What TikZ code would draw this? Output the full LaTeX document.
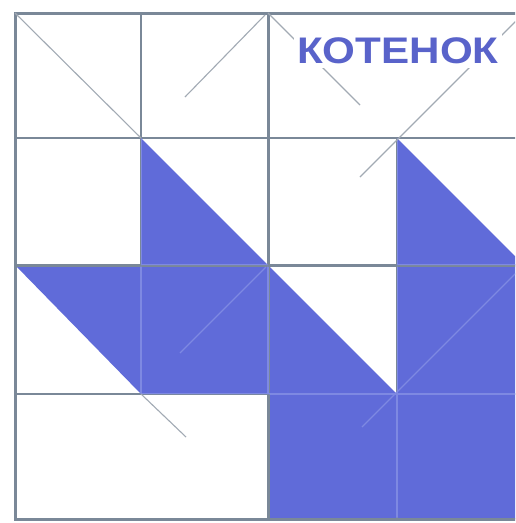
\documentclass[tikz,border=0pt]{standalone}
\usepackage{fontspec}
\setmainfont{Liberation Sans}
\definecolor{fillblue}{HTML}{606BD9}
\definecolor{gridgray}{HTML}{7A8898}
\definecolor{gridlav}{HTML}{7E89E2}
\definecolor{hintgray}{HTML}{A2AAB4}
\definecolor{textblue}{HTML}{5963CA}
\begin{document}
\begin{tikzpicture}[x=1pt,y=-1pt,
  gridline/.style={draw=gridgray,line width=2pt},
  gridthick/.style={draw=gridgray,line width=3pt},
  lavline/.style={draw=gridlav,line width=1.6pt},
  hint/.style={draw=hintgray,line width=1.1pt},
  hintblue/.style={draw=gridlav,line width=1.1pt},
  title/.style={fill=white,text=textblue,font=\bfseries\fontsize{37}{37}\selectfont,inner xsep=3pt,inner ysep=4pt}]
\useasboundingbox (0,0) rectangle (515,523);
\clip (0,0) rectangle (515,523);
\fill[white] (0,0) rectangle (515,523);
% blue shapes
\fill[fillblue] (141,138) -- (141,265) -- (268,265) -- cycle;
\fill[fillblue] (397,138) -- (397,265) -- (524,265) -- cycle;
\fill[fillblue] (15,265) -- (268,265) -- (397,394) -- (397,265) -- (524,265) -- (524,519) -- (268,519) -- (268,394) -- (141,394) -- cycle;
% grid
\draw[gridline] (141,13) -- (141,394);
\draw[gridline] (397,138) -- (397,519);
\foreach \y in {138,394} \draw[gridline] (15,\y) -- (524,\y);
\draw[gridthick] (268,13) -- (268,519);
\draw[gridthick] (15,265) -- (524,265);
\draw[gridthick] (15,13) rectangle (524,519);
% lighter grid inside blue regions
\begin{scope}
\clip (141,138) -- (141,265) -- (268,265) -- cycle
      (397,138) -- (397,265) -- (524,265) -- cycle
      (16.5,266.5) -- (268,266.5) -- (397,394) -- (397,266.5) -- (524,266.5) -- (524,517.5) -- (269.5,517.5) -- (269.5,394) -- (141,394) -- cycle;
\foreach \x in {141,268,397} \draw[lavline] (\x,13) -- (\x,519);
\foreach \y in {138,265,394} \draw[lavline] (15,\y) -- (524,\y);
\end{scope}
% hint lines
\coordinate (h1a) at (15,13);   \coordinate (h1b) at (141,138);
\coordinate (h2a) at (265,15);  \coordinate (h2b) at (185,97);
\coordinate (h3a) at (268,13);  \coordinate (h3b) at (360,105);
\coordinate (h4a) at (524,13);  \coordinate (h4b) at (360,177);
\coordinate (h5a) at (266,267); \coordinate (h5b) at (180,353);
\coordinate (h6a) at (524,265); \coordinate (h6b) at (362,427);
\coordinate (h7a) at (141,394); \coordinate (h7b) at (186,437);
\draw[hint] (h1a) -- (h1b);
\draw[hint] (h2a) -- (h2b);
\draw[hint] (h3a) -- (h3b);
\draw[hint] (h4a) -- (h4b);
\draw[hintblue] (h5a) -- (h5b);
\draw[hintblue] (h6a) -- (h6b);
\draw[hint] (h7a) -- (h7b);
% title
\node[title] (t) at (398,51) {\scalebox{1.14}[1]{КОТЕНОК}};
\end{tikzpicture}
\end{document}
